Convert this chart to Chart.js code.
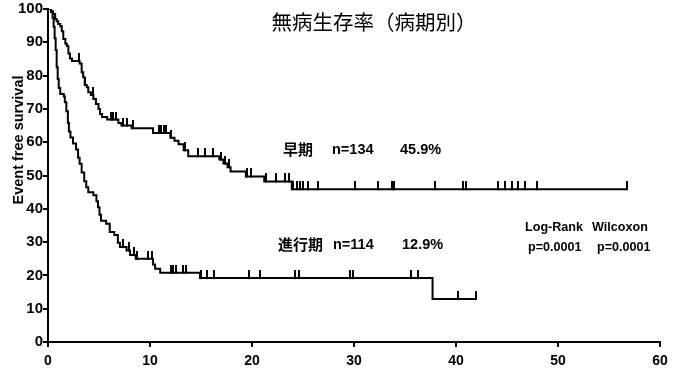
<!DOCTYPE html>
<html>
<head>
<meta charset="utf-8">
<script src="https://cdn.jsdelivr.net/npm/chart.js@4.4.0/dist/chart.umd.min.js"></script>
<style>
  html, body { margin: 0; padding: 0; background: #fff; }
  #wrap { width: 685px; height: 369px; position: relative; }
</style>
</head>
<body>
<div id="wrap"><canvas id="km"></canvas></div>
<script>
// 早期 (early stage) - event times (years) and survival (%) after each drop
var earlyTimes = [0, 0.3, 0.5, 0.7, 0.85, 1.0, 1.2, 1.35, 1.5, 1.7, 1.85, 2.0, 2.15, 2.35, 3.1, 3.3, 3.45, 3.6, 3.8, 3.95,
  4.2, 4.45, 4.7, 4.95, 5.1, 5.3, 5.8, 6.9, 7.2, 8.2, 10.3, 12.0, 12.4, 12.8, 13.3, 13.75, 16.8, 17.2, 17.6, 17.9,
  19.4, 21.2, 23.9, 56.8];
var earlySurv = [100, 99.3, 98.5, 97.0, 96.3, 95.5, 94.8, 93.3, 91.0, 89.6, 88.9, 86.6, 85.1, 84.4, 83.6, 81.0, 79.5, 77.2, 76.5, 75.0,
  74.2, 73.0, 71.5, 70.0, 68.5, 67.6, 66.8, 65.8, 65.0, 64.2, 62.8, 61.3, 60.4, 59.4, 57.6, 55.8, 54.8, 53.6, 52.5, 51.2,
  49.7, 48.2, 45.9, 45.9];
var earlyCensor = [3.0, 3.6, 3.65, 4.4, 6.2, 6.4, 6.7, 7.4, 7.7, 8.3, 10.9, 11.1, 11.4, 11.6, 12.1, 13.4, 14.7, 15.4, 16.2,
  17.0, 17.4, 17.7, 19.5, 19.9, 21.4, 22.4, 23.2, 23.6, 24.05, 24.4, 24.7, 25.0, 25.5, 26.5, 30.1, 32.4, 33.7, 33.9,
  37.9, 40.7, 41.0, 44.1, 44.8, 45.5, 46.1, 46.8, 47.9, 56.8];

// 進行期 (advanced stage)
var lateTimes = [0, 0.3, 0.45, 0.55, 0.65, 0.75, 0.85, 0.95, 1.05, 1.2, 1.55, 1.65, 1.8, 1.95, 2.05, 2.2, 2.45, 2.75, 2.95, 3.1,
  3.3, 3.55, 3.75, 3.95, 4.45, 4.75, 4.9, 5.05, 5.2, 5.7, 6.05, 6.5, 6.85, 7.05, 7.7, 8.05, 8.6, 10.3, 10.5, 11.0,
  14.9, 37.7, 42.0];
var lateSurv = [100, 99.1, 97.4, 94.7, 91.2, 87.7, 82.5, 79.0, 76.3, 74.5, 73.7, 72.0, 69.3, 65.8, 63.2, 61.4, 59.6, 57.8, 55.3, 53.5,
  50.9, 48.3, 46.5, 45.0, 44.1, 42.3, 40.5, 38.2, 36.4, 35.5, 33.0, 32.1, 29.8, 28.5, 27.5, 26.1, 25.0, 23.3, 22.0, 20.8,
  19.2, 12.9, 12.9];
var lateCensor = [7.4, 7.9, 8.4, 8.7, 9.8, 10.2, 12.1, 12.3, 12.5, 13.2, 13.5, 15.0, 15.6, 16.3, 19.7, 20.8, 24.2, 24.6,
  29.6, 29.9, 35.6, 36.3, 40.2, 42.0];

var xTickValues = [0, 10, 20, 30, 40, 50, 60];
var yTickValues = [0, 10, 20, 30, 40, 50, 60, 70, 80, 90, 100];

var chartTitle = '無病生存率（病期別）';
var yTitle = 'Event free survival';

function curve(times, surv) {
  return times.map(function (t, i) { return { x: t, y: surv[i] }; });
}
function survAt(times, surv, t) {
  var v = surv[0];
  for (var i = 0; i < times.length; i++) { if (times[i] <= t) v = surv[i]; }
  return v;
}
function censorPoints(times, surv, cens) {
  return cens.map(function (t) { return { x: t, y: survAt(times, surv, t) }; });
}

// censor tick mark: a short vertical stroke standing on the curve
var tick = document.createElement('canvas');
tick.width = 2; tick.height = 16;
var tctx = tick.getContext('2d');
tctx.fillStyle = '#000';
tctx.fillRect(0, 0, 2, 9);

var labels = {
  id: 'labels',
  afterDraw: function (chart) {
    var ctx = chart.ctx;
    ctx.save();
    ctx.fillStyle = '#000';
    ctx.textBaseline = 'middle';
    ctx.textAlign = 'center';
    ctx.font = '20.5px "Noto Sans CJK JP"';
    ctx.fillText(chartTitle, 374, 22);

    // y axis title
    ctx.save();
    ctx.translate(19, 140);
    ctx.rotate(-Math.PI / 2);
    ctx.font = 'bold 14.5px "Liberation Sans"';
    ctx.fillText(yTitle, 0, 0);
    ctx.restore();

    ctx.textAlign = 'left';
    ctx.font = 'bold 15px "Noto Sans CJK JP"';
    ctx.fillText('早期', 283, 149);
    ctx.fillText('進行期', 278, 244);
    ctx.font = 'bold 14.5px "Liberation Sans"';
    ctx.fillText('n=134', 332, 150);
    ctx.fillText('45.9%', 400, 150);
    ctx.fillText('n=114', 333, 245);
    ctx.fillText('12.9%', 402, 245);
    ctx.font = 'bold 12.6px "Liberation Sans"';
    ctx.fillText('Log-Rank', 525, 228);
    ctx.fillText('Wilcoxon', 592, 228);
    ctx.fillText('p=0.0001', 528, 248);
    ctx.fillText('p=0.0001', 597, 248);
    ctx.restore();
  }
};

new Chart(document.getElementById('km'), {
  type: 'scatter',
  data: {
    datasets: [
      { data: curve(earlyTimes, earlySurv), showLine: true, stepped: 'before', borderColor: '#000', borderWidth: 2, pointRadius: 0 },
      { data: curve(lateTimes, lateSurv), showLine: true, stepped: 'before', borderColor: '#000', borderWidth: 2, pointRadius: 0 },
      { data: censorPoints(earlyTimes, earlySurv, earlyCensor), pointStyle: tick, pointRadius: 5 },
      { data: censorPoints(lateTimes, lateSurv, lateCensor), pointStyle: tick, pointRadius: 5 }
    ]
  },
  options: {
    responsive: true,
    maintainAspectRatio: false,
    animation: false,
    layout: { padding: { top: 6, right: 25, left: 0, bottom: 0 } },
    plugins: { legend: { display: false }, tooltip: { enabled: false } },
    scales: {
      x: {
        type: 'linear', min: 0, max: 60,
        afterBuildTicks: function (s) { s.ticks = xTickValues.map(function (v) { return { value: v }; }); },
        afterFit: function (s) { s.height = 27; },
        border: { color: '#000', width: 2 },
        grid: { drawOnChartArea: false, color: '#000', lineWidth: 2, tickLength: 5 },
        ticks: { color: '#000', padding: 6, maxRotation: 0, font: { family: 'Liberation Sans', size: 14, weight: 'bold' } }
      },
      y: {
        type: 'linear', min: 0, max: 100,
        afterBuildTicks: function (s) { s.ticks = yTickValues.map(function (v) { return { value: v }; }); },
        afterFit: function (s) { s.width = 48; },
        border: { color: '#000', width: 2 },
        grid: { drawOnChartArea: false, color: '#000', lineWidth: 2, tickLength: 5 },
        ticks: { color: '#000', padding: 0, font: { family: 'Liberation Sans', size: 15, weight: 'bold' } }
      }
    }
  },
  plugins: [labels]
});
</script>
</body>
</html>
